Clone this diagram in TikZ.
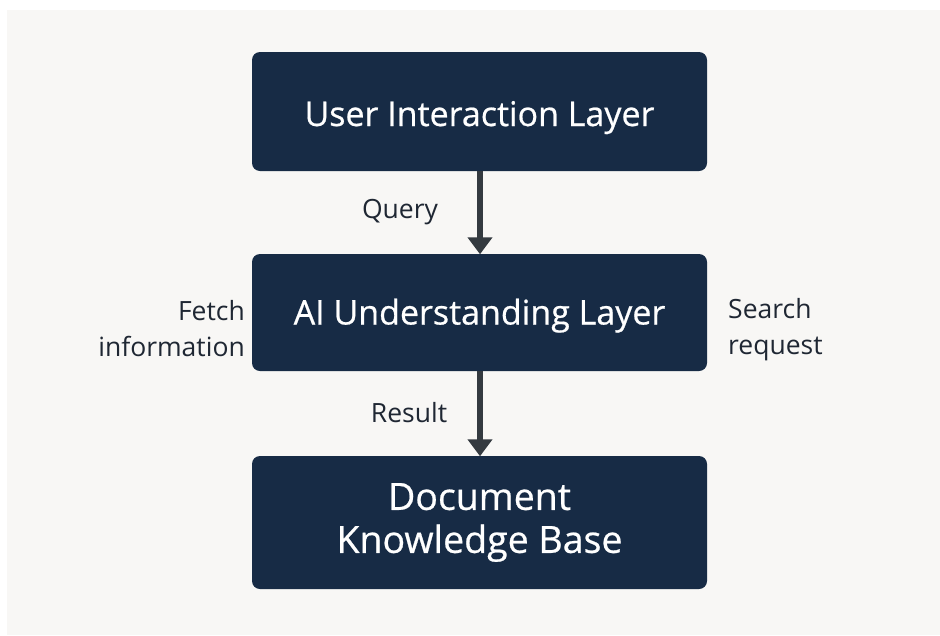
\documentclass[tikz,border=0pt]{standalone}
\usepackage{fontspec}
\setmainfont{Open Sans}
\newfontfamily\layerfont[FakeBold=0.6]{Open Sans}
\usetikzlibrary{arrows.meta}
\definecolor{paper}{HTML}{F8F7F5}
\definecolor{layerfill}{HTML}{172B45}
\definecolor{arrowgray}{HTML}{343A40}
\definecolor{labelink}{HTML}{1F2733}
\tikzset{
  layer/.style={fill=layerfill, rounded corners=8pt, minimum width=455pt,
    text=white, font=\layerfont\fontsize{34}{43}\selectfont, align=center, inner sep=0pt},
  flow/.style={draw=arrowgray, line width=5.5pt,
    -{Triangle[width=24pt,length=17pt]}, shorten >=-0.5pt},
  lbl/.style={text=labelink, font=\fontsize{26.5}{36}\selectfont, inner sep=0pt}
}
\begin{document}
\begin{tikzpicture}[x=1pt,y=-1pt]
  % canvas
  \fill[white] (0,0) rectangle (940,635);
  \fill[paper] (7,10) rectangle (940,635);
  \useasboundingbox (0,0) rectangle (940,635);

  % the three layers
  \node[layer, minimum height=119pt, text height=29pt, text depth=0pt]
    (ui) at (479.5,111.5) {User Interaction Layer};
  \node[layer, minimum height=117pt, text height=24pt, text depth=0pt]
    (ai) at (479.5,312.5) {AI Understanding Layer};
  \node[layer, minimum height=133pt, font=\layerfont\fontsize{37.5}{43}\selectfont]
    (kb) at (479.5,522.5) {Document\\Knowledge Base};

  % flows between layers
  \draw[flow] (ui.south -| 480,0) -- (ai.north -| 480,0);
  \draw[flow] (ai.south -| 480,0) -- (kb.north -| 480,0);

  % labels
  \node[lbl] (q) at (400,212) {Query};
  \node[lbl] (r) at (409,413) {Result};
  \node[lbl, align=right, anchor=east] (f) at (245,329) {Fetch\\information};
  \node[lbl, align=left, anchor=west] (s) at (728,330) {Search\\request};
\end{tikzpicture}
\end{document}
